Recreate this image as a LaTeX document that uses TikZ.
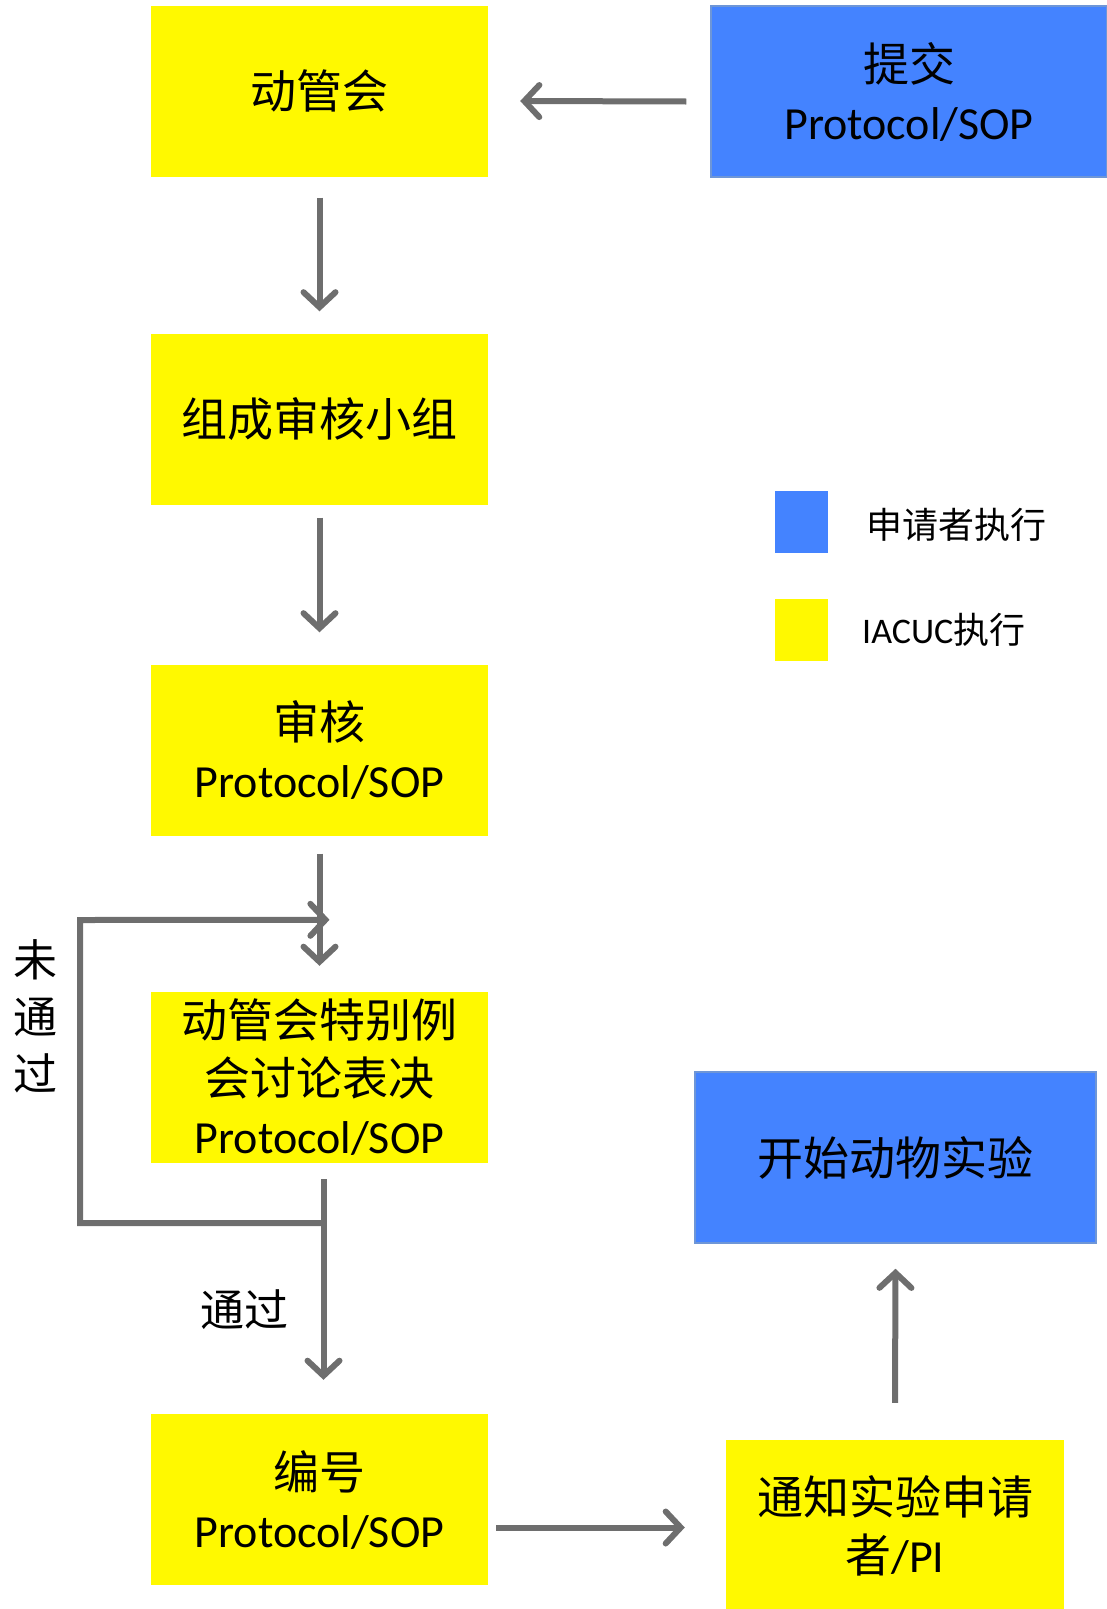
\documentclass[tikz,border=0pt]{standalone}
\usepackage{fontspec}
\setmainfont{Carlito}
\newfontfamily\cjk{Noto Sans CJK SC}
\usetikzlibrary{arrows.meta}

\definecolor{boxyellow}{RGB}{255,249,0}
\definecolor{boxblue}{RGB}{68,131,255}
\definecolor{boxblueline}{RGB}{110,150,215}
\definecolor{arrowgray}{RGB}{110,110,110}

\tikzstyle{ybox} = [rectangle, fill=boxyellow, minimum width=337pt, minimum height=171pt, inner sep=0pt, align=center, font=\fontsize{46}{58}\selectfont]
\tikzstyle{bbox} = [rectangle, fill=boxblue, draw=boxblueline, line width=1.5pt, minimum height=171pt, inner sep=0pt, align=center, font=\fontsize{46}{58}\selectfont]
\tikzstyle{key} = [rectangle, minimum width=53pt, minimum height=62pt, inner sep=0pt]
\tikzstyle{keytext} = [anchor=west, inner sep=0pt, font=\fontsize{36}{40}\selectfont]
\tikzstyle{arr} = [draw=arrowgray, line width=6pt, -{Straight Barb[length=15pt,width=32pt,line cap=round]}]
\tikzstyle{lbl} = [align=center, inner sep=0pt, font=\fontsize{44}{57}\selectfont\cjk]

\begin{document}
\begin{tikzpicture}[x=1pt, y=-1pt]
  \useasboundingbox (0,0) rectangle (1107,1609);

  % boxes
  \node[ybox] (dgh) at (319.5,91) {\cjk 动管会};
  \node[bbox, minimum width=396pt] (submit) at (909,91.5) {{\cjk 提交}\\Protocol/SOP};
  \node[ybox] (team) at (319.5,419) {\cjk 组成审核小组};
  \node[ybox] (review) at (319.5,750) {{\cjk 审核}\\Protocol/SOP};
  \node[ybox] (vote) at (319.5,1077.5) {{\cjk 动管会特别例}\\{\cjk 会讨论表决}\\Protocol/SOP};
  \node[ybox] (number) at (319.5,1499.5) {{\cjk 编号}\\Protocol/SOP};
  \node[ybox, minimum width=338pt] (notify) at (895,1525.5) {{\cjk 通知实验申请}\\{\cjk 者}/PI};
  \node[bbox, minimum width=401pt] (start) at (895.5,1157.5) {\cjk 开始动物实验};

  % legend
  \node[key, fill=boxblue] (keyA) at (801,522) {};
  \node[keytext] (keyAtxt) at (866,525) {\cjk 申请者执行};
  \node[key, fill=boxyellow] (keyB) at (801,629.5) {};
  \node[keytext] (keyBtxt) at (862,630) {IACUC{\cjk 执行}};

  % labels
  \node[lbl] (fail) at (35,1016) {未\\通\\过};
  \node[lbl] (pass) at (244,1310) {通过};

  \coordinate (failL) at (80,1223);
  \coordinate (failT) at (80,920);

  % arrows
  \draw[arr] ([xshift=-24pt,yshift=-10pt]submit.west) -- ([xshift=32pt,yshift=-10pt]dgh.east);
  \draw[arr] ([yshift=-21pt]dgh.south) -- ([yshift=22pt]team.north);
  \draw[arr] ([yshift=-13pt]team.south) -- ([yshift=32pt]review.north);
  \draw[arr] ([yshift=-18pt]review.south) -- ([yshift=26pt]vote.north);
  \draw[arr] ([xshift=4pt,yshift=-16pt]vote.south) -- ([xshift=4pt,yshift=34pt]number.north);
  \draw[arr] ([xshift=4pt,yshift=-60pt]vote.south) -- (failL) -- (failT) -- ([xshift=10pt,yshift=72pt]vote.north);
  \draw[arr] ([xshift=8pt,yshift=-28pt]number.east) -- ([xshift=-41pt,yshift=-2pt]notify.west);
  \draw[arr] ([yshift=37pt]notify.north) -- ([yshift=-25pt]start.south);
\end{tikzpicture}
\end{document}
